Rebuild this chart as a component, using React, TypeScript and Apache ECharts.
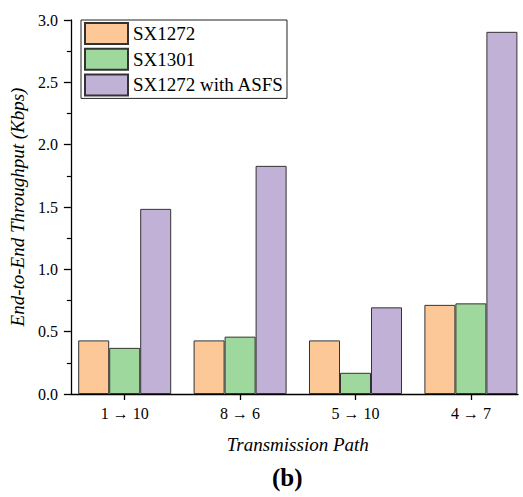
import React, { useEffect, useRef } from "react";
import * as echarts from "echarts";

const categories = ["1 → 10", "8 → 6", "5 → 10", "4 → 7"];
const seriesNames = ["SX1272", "SX1301", "SX1272 with ASFS"];
const sx1272 = [0.43, 0.43, 0.43, 0.715];
const sx1301 = [0.37, 0.46, 0.17, 0.727];
const sx1272Asfs = [1.485, 1.83, 0.695, 2.905];
const yTicks = { min: 0, max: 3, interval: 0.5 };
const colors = ["#FDC897", "#9FD89C", "#C2B1D7"];

const FONT = "Liberation Serif";

export default function App() {
  const ref = useRef<HTMLDivElement>(null);
  useEffect(() => {
    if (!ref.current) return;
    const chart = echarts.init(ref.current, null, { renderer: "svg" });
    const allSeries = [sx1272, sx1301, sx1272Asfs];
    chart.setOption({
      animation: false,
      backgroundColor: "#ffffff",
      textStyle: { fontFamily: FONT, color: "#000" },
      title: {
        text: "{n|(}{b|b}{n|)}",
        left: 267,
        top: 460,
        textStyle: {
          fontFamily: FONT,
          rich: {
            n: { fontFamily: FONT, fontSize: 25, color: "#000" },
            b: { fontFamily: FONT, fontSize: 25, fontWeight: "bold", color: "#000" },
          },
        },
      },
      legend: {
        left: 81,
        top: 20,
        orient: "vertical",
        icon: "rect",
        itemWidth: 43,
        itemHeight: 21,
        itemGap: 2.7,
        padding: [2, 3, 2, 3],
        borderColor: "#222",
        borderWidth: 1,
        borderRadius: 0,
        textStyle: { fontFamily: FONT, fontSize: 19, color: "#000" },
        data: seriesNames,
      },
      grid: [
        { left: 66, top: 20, width: 452, height: 374 },
        { left: 67, top: 20, width: 461.6, height: 374 },
      ],
      xAxis: [
        {
          gridIndex: 0,
          type: "value",
          min: 0,
          max: 1,
          axisLine: { show: true, onZero: false, lineStyle: { color: "#000", width: 1.3 } },
          axisTick: { show: false },
          axisLabel: { show: false },
          splitLine: { show: false },
        },
        {
          gridIndex: 1,
          type: "category",
          data: categories,
          boundaryGap: true,
          axisLine: { show: false },
          axisTick: { show: true, alignWithLabel: true, length: 6, lineStyle: { color: "#000", width: 1.3 } },
          axisLabel: { fontFamily: FONT, fontSize: 16, color: "#000", margin: 11 },
          name: "Transmission Path",
          nameLocation: "middle",
          nameGap: 41,
          nameTextStyle: { fontFamily: FONT, fontSize: 19, fontStyle: "italic", color: "#000" },
        },
      ],
      yAxis: [
        {
          gridIndex: 0,
          type: "value",
          min: yTicks.min,
          max: yTicks.max,
          interval: yTicks.interval,
          axisLine: { show: true, onZero: false, lineStyle: { color: "#000", width: 1.3 } },
          axisTick: { show: true, length: 7, lineStyle: { color: "#000", width: 1.3 } },
          minorTick: { show: true, splitNumber: 2, length: 4, lineStyle: { color: "#000", width: 1.2 } },
          splitLine: { show: false },
          axisLabel: {
            fontFamily: FONT,
            fontSize: 16,
            color: "#000",
            margin: 13,
            formatter: (v: number) => v.toFixed(1),
          },
          name: "End-to-End Throughput (Kbps)",
          nameLocation: "middle",
          nameGap: 36,
          nameTextStyle: { fontFamily: FONT, fontSize: 19, fontStyle: "italic", color: "#000" },
        },
        {
          gridIndex: 1,
          type: "value",
          min: yTicks.min,
          max: yTicks.max,
          axisLine: { show: false, onZero: false },
          axisTick: { show: false },
          axisLabel: { show: false },
          splitLine: { show: false },
        },
      ],
      series: seriesNames.map((name, si) => ({
        name,
        type: "bar",
        xAxisIndex: 1,
        yAxisIndex: 1,
        barWidth: 31,
        barGap: "0%",
        itemStyle: { color: colors[si], borderColor: "#333", borderWidth: 1 },
        data: allSeries[si],
      })),
    });
    return () => chart.dispose();
  }, []);
  return (
    <div
      ref={ref}
      style={{ position: "fixed", left: 0, top: 0, width: 545, height: 497 }}
    />
  );
}
